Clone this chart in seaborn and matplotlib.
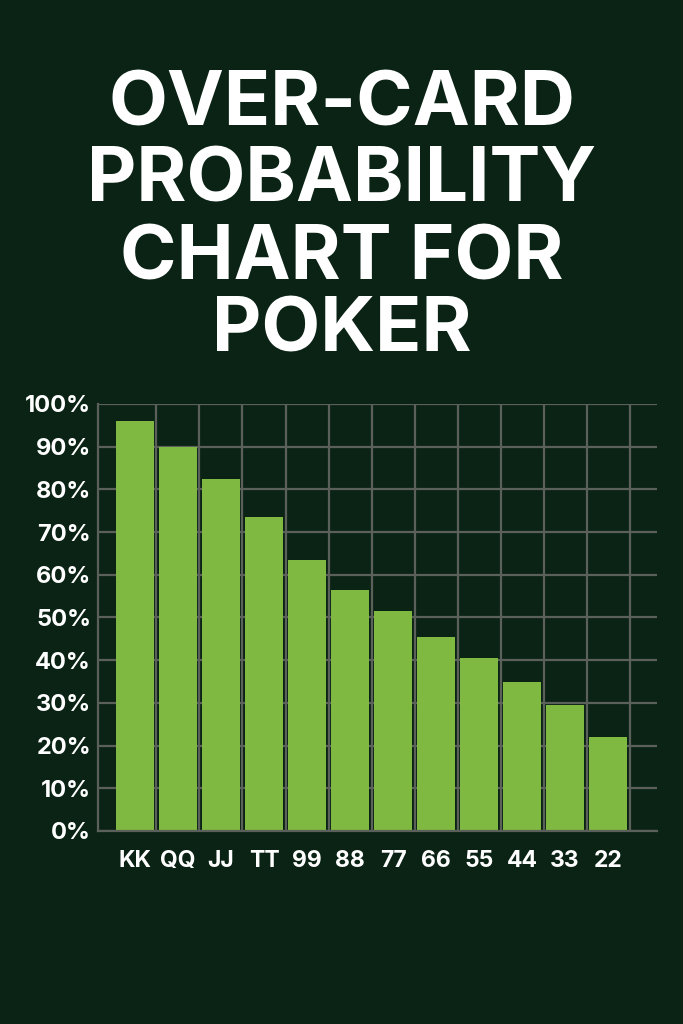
import matplotlib
matplotlib.use("Agg")
import matplotlib.pyplot as plt
import numpy as np
import seaborn as sns

# data
hands = ["KK", "QQ", "JJ", "TT", "99", "88", "77", "66", "55", "44", "33", "22"]
overcard_pct = [96, 90, 82.5, 73.5, 63.5, 56.5, 51.5, 45.5, 40.5, 35, 29.5, 22]
y_ticks = [0, 10, 20, 30, 40, 50, 60, 70, 80, 90, 100]
title_lines = ["OVER-CARD", "PROBABILITY", "CHART FOR", "POKER"]

BG = "#0a2315"
BAR = "#80b941"
GRID = "#5b605a"

sns.set_theme(style="dark")
plt.rcParams["font.family"] = ["Inter", "DejaVu Sans"]

fig = plt.figure(figsize=(6.83, 10.24), dpi=100, facecolor=BG)
ax = fig.add_axes([0.1435, 0.1885, 0.8185, 0.417])
ax.set_facecolor(BG)

sns.barplot(x=hands, y=overcard_pct, color=BAR, width=0.88,
            saturation=1, linewidth=0, ax=ax, zorder=3)

ax.set_xlim(-0.86, 12.14)
ax.set_ylim(0, 100)
ax.set_yticks(y_ticks)
ax.set_yticklabels([f"{t}%" for t in y_ticks])

# grid: horizontal at ticks, vertical between bars
for t in y_ticks:
    ax.axhline(t, color=GRID, lw=1.6, zorder=1)
for i in range(len(hands)):
    ax.axvline(i + 0.5, color=GRID, lw=1.6, zorder=1)
ax.grid(False)

for s in ["top", "right"]:
    ax.spines[s].set_visible(False)
for s in ["left", "bottom"]:
    ax.spines[s].set_color(GRID)
    ax.spines[s].set_linewidth(1.6)
    ax.spines[s].set_zorder(4)

ax.tick_params(axis="both", length=0, colors="white")
ax.tick_params(axis="y", pad=5)
ax.tick_params(axis="x", pad=14)
for lab in ax.get_yticklabels():
    lab.set_fontsize(17)
    lab.set_fontweight("bold")
for lab in ax.get_xticklabels():
    lab.set_fontsize(16.5)
    lab.set_fontweight("bold")

ax.set_xlabel("")
ax.set_ylabel("")

y_pos = [0.896, 0.822, 0.746, 0.676]
for line, y in zip(title_lines, y_pos):
    fig.text(0.5, y, line, ha="center", va="center", color="white",
             fontsize=55, fontweight="bold")

fig.savefig("out.png", dpi=100, facecolor=BG)
